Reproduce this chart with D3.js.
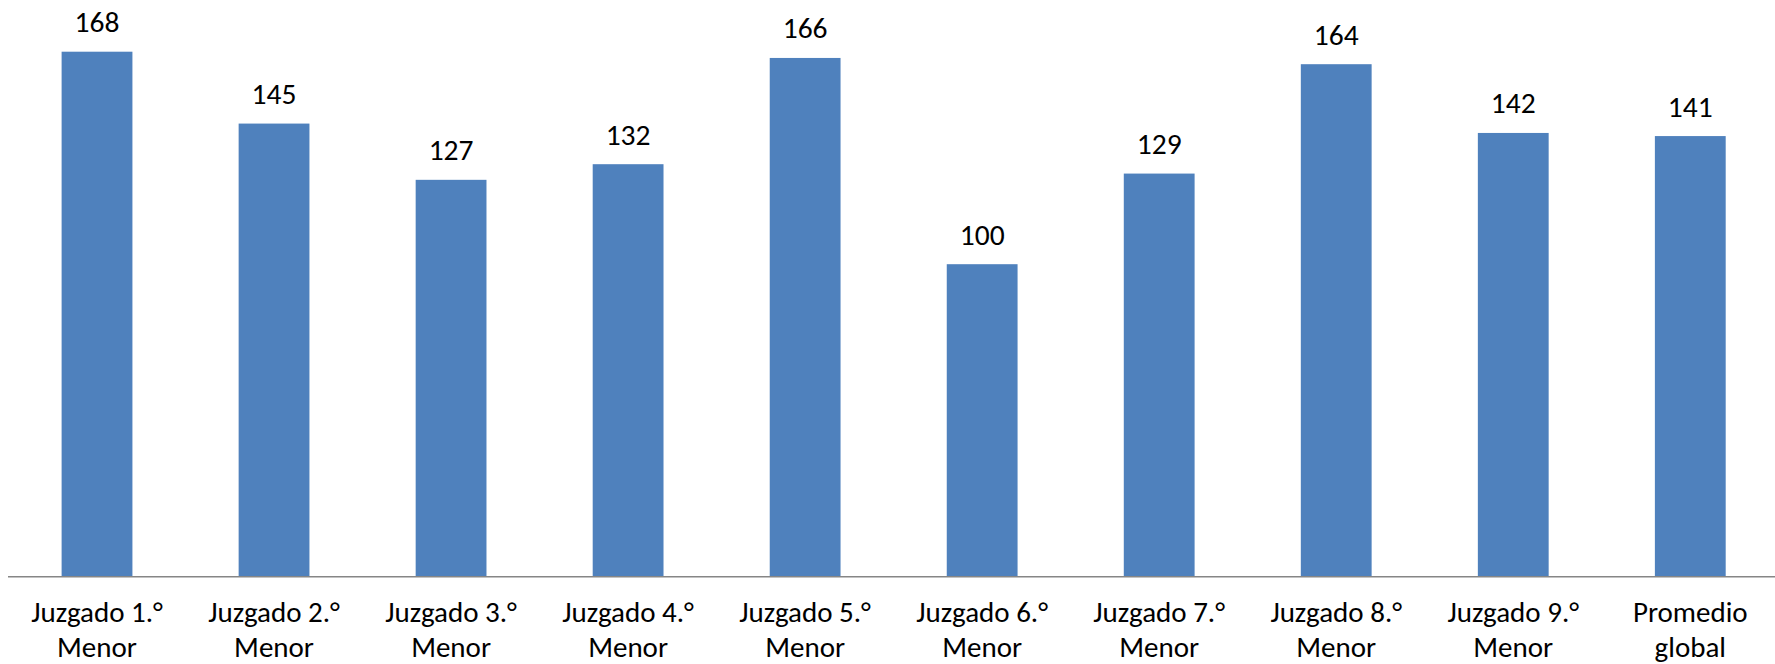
<!DOCTYPE html>
<html>
<head>
<meta charset="utf-8">
<script src="https://cdn.jsdelivr.net/npm/d3@7"></script>
<style>
  html, body { margin: 0; padding: 0; background: #fff; }
  text { font-family: Carlito, Calibri, "Liberation Sans", Arial, sans-serif; fill: #000; }
</style>
</head>
<body>
<div id="chart"></div>
<script>
const categories = [
  ["Juzgado 1.°", "Menor"],
  ["Juzgado 2.°", "Menor"],
  ["Juzgado 3.°", "Menor"],
  ["Juzgado 4.°", "Menor"],
  ["Juzgado 5.°", "Menor"],
  ["Juzgado 6.°", "Menor"],
  ["Juzgado 7.°", "Menor"],
  ["Juzgado 8.°", "Menor"],
  ["Juzgado 9.°", "Menor"],
  ["Promedio", "global"]
]
const values = [168, 145, 127, 132, 166, 100, 129, 164, 142, 141]

const width = 1775
const height = 664

const svg = d3.select("#chart")
  .append("svg")
  .attr("width", width)
  .attr("height", height)

// Category band, bars take 40% of each step
const x = d3.scaleBand()
  .domain(d3.range(values.length))
  .range([8.5, 1778.8])
  .paddingInner(0.6)
  .paddingOuter(0.3)

const y = d3.scaleLinear()
  .domain([0, 168])
  .range([576.7, 51.7])

// Bars
svg.selectAll(".bar")
  .data(values)
  .enter()
  .append("rect")
  .attr("class", "bar")
  .attr("x", (d, i) => x(i))
  .attr("y", d => y(d))
  .attr("width", x.bandwidth())
  .attr("height", d => y(0) - y(d))
  .style("fill", "#4F81BD")

// Baseline
svg.append("line")
  .attr("x1", 8)
  .attr("x2", width)
  .attr("y1", y(0))
  .attr("y2", y(0))
  .style("stroke", "#868686")
  .style("stroke-width", 1.5)

// Value labels
svg.selectAll(".value")
  .data(values)
  .enter()
  .append("text")
  .attr("class", "value")
  .attr("x", (d, i) => x(i) + x.bandwidth() / 2)
  .attr("y", d => y(d) - 19.5)
  .style("text-anchor", "middle")
  .style("font-size", "29.5px")
  .text(d => d)

// Category labels, two lines each
svg.selectAll(".cat")
  .data(categories)
  .enter()
  .append("text")
  .attr("class", "cat")
  .style("text-anchor", "middle")
  .style("font-size", "29px")
  .each(function(d, i) {
    const t = d3.select(this)
    const cx = x(i) + x.bandwidth() / 2
    t.append("tspan").attr("x", cx).attr("y", 622).text(d[0])
    t.append("tspan").attr("x", cx).attr("y", 657).text(d[1])
  })
</script>
</body>
</html>
